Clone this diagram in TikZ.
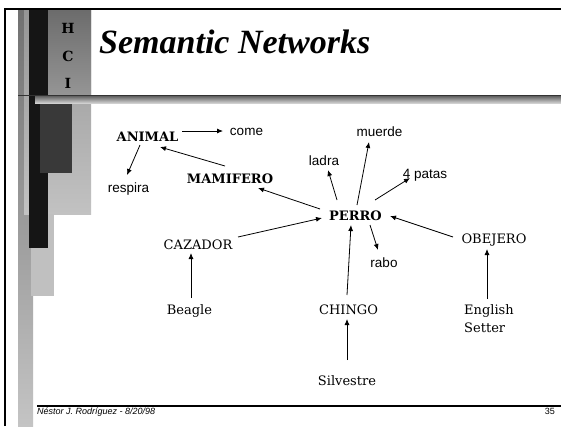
\documentclass[tikz,border=0pt]{standalone}
\usepackage{fontspec}
\usetikzlibrary{arrows.meta,calc}
\newfontfamily\nodeserif{DejaVu Serif}
\newfontfamily\labsans{Liberation Sans}
\newfontfamily\titleserif{Liberation Serif}
\definecolor{stripA1}{HTML}{707070}
\definecolor{stripA2}{HTML}{C4C4C4}
\definecolor{boxL1}{HTML}{959595}
\definecolor{boxL2}{HTML}{C2C2C2}
\definecolor{hci1}{HTML}{6B6B6B}
\definecolor{hci2}{HTML}{959595}
\definecolor{blackbar}{HTML}{151515}
\definecolor{darkbox}{HTML}{393939}
\definecolor{lowbox}{HTML}{C0C0C0}
\definecolor{bar1}{HTML}{6A6A6A}
\definecolor{bar2}{HTML}{D8D8D8}
\begin{document}
\begin{tikzpicture}[x=1pt,y=-1pt,
  cnode/.style={font=\nodeserif\fontsize{13}{18}\selectfont, inner sep=0pt, anchor=base},
  bnode/.style={font=\nodeserif\bfseries\fontsize{13}{18}\selectfont, inner sep=0pt, anchor=base},
  anode/.style={font=\labsans\fontsize{13.5}{16}\selectfont, inner sep=0pt, anchor=base},
  arr/.style={-{Latex[length=6pt,width=5pt]}, line width=0.8pt},
  hcil/.style={font=\nodeserif\bfseries\fontsize{14}{14}\selectfont, inner sep=0pt, anchor=base},
  foot/.style={font=\labsans\itshape\fontsize{9}{9}\selectfont, inner sep=0pt},
]
\fill[white] (0,0) rectangle (561,426);
\useasboundingbox (0,0) rectangle (561,426);
% decorative side bars
\shade[top color=stripA1, bottom color=stripA2] (18,8) rectangle (33,426);
\shade[top color=boxL1, bottom color=boxL2] (24,8) rectangle (91,214);
\fill[lowbox] (31,214) rectangle (54,296);
\shade[top color=hci1, bottom color=hci2] (48,8) rectangle (91,95);
\fill[blackbar] (29,8) rectangle (48,248);
\draw[line width=1pt, black!80] (18,95) -- (561,95);
\shade[top color=bar1, bottom color=bar2] (35,96.5) rectangle (561,103.5);
\fill[darkbox] (40,104) rectangle (72,173);
% frame
\draw[line width=2pt] (5,426) -- (5,9) -- (561,9);
% HCI
\node[hcil] (h) at (68,33) {H};
\node[hcil] (c) at (68,61) {C};
\node[hcil] (i) at (68,88) {I};
% title
\node[font=\titleserif\bfseries\itshape\fontsize{34}{34}\selectfont, anchor=base west, inner sep=0pt] (title) at (99,53) {Semantic Networks};
% footer
\draw[line width=2pt] (37,406) -- (561,406);
\node[foot, anchor=base west] (author) at (37,414) {Néstor J. Rodríguez - 8/20/98};
\node[foot, font=\labsans\fontsize{9}{9}\selectfont, anchor=base east] (page) at (555,414) {35};
% nodes
\node[bnode] (animal) at (147.5,141) {ANIMAL};
\node[anode] (come) at (246.5,135) {come};
\node[anode] (respira) at (128.5,192) {respira};
\node[bnode] (mamifero) at (230,183) {MAMIFERO};
\node[anode] (ladra) at (324,165) {ladra};
\node[anode] (muerde) at (379.5,136) {muerde};
\node[anode] (patas) at (425,178) {4 patas};
\node[bnode] (perro) at (355.5,220) {PERRO};
\node[cnode] (obejero) at (494,243) {OBEJERO};
\node[anode] (rabo) at (384,267) {rabo};
\node[cnode] (cazador) at (198,249) {CAZADOR};
\node[cnode] (beagle) at (189.5,314) {Beagle};
\node[cnode] (chingo) at (348.5,314) {CHINGO};
\node[cnode] (silvestre) at (347,385) {Silvestre};
\node[cnode, anchor=north west, align=left] (setter) at (464,304) {English\\Setter};
% connectors
\draw[arr] ($(animal.base)+(34.5,-10)$) -- ($(come.base)+(-23.5,-4)$);
\draw[arr] ($(animal.base)+(-7.5,4)$) -- ($(respira.base)+(-1.5,-17)$);
\draw[arr] ($(mamifero.base)+(-5,-17)$) -- ($(animal.base)+(12.5,6)$);
\draw[arr] ($(perro.base)+(-35.5,-11)$) -- ($(mamifero.base)+(28,5)$);
\draw[arr] ($(cazador.base)+(40,-12)$) -- ($(perro.base)+(-33.5,-2)$);
\draw[arr] ($(perro.base)+(-18.5,-20)$) -- ($(ladra.base)+(4,5)$);
\draw[arr] ($(perro.base)+(1.5,-15)$) -- ($(muerde.base)+(-10.5,6)$);
\draw[arr] ($(perro.base)+(19.5,-20)$) -- ($(patas.base)+(-15,0)$);
\draw[arr] ($(perro.base)+(14.5,5)$) -- ($(rabo.base)+(-6,-17)$);
\draw[arr] ($(obejero.base)+(-41,-6)$) -- ($(perro.base)+(34.5,-4)$);
\draw[arr] ($(beagle.base)+(1.5,-16)$) -- ($(cazador.base)+(-7,4)$);
\draw[arr] ($(chingo.base)+(-1.5,-19)$) -- ($(perro.base)+(-4.5,5)$);
\draw[arr] ($(silvestre.base)+(0,-25)$) -- ($(chingo.base)+(-1.5,5)$);
\draw[arr] ($(setter.north west)+(23,-5)$) -- ($(obejero.base)+(-7,6)$);
\end{tikzpicture}
\end{document}
